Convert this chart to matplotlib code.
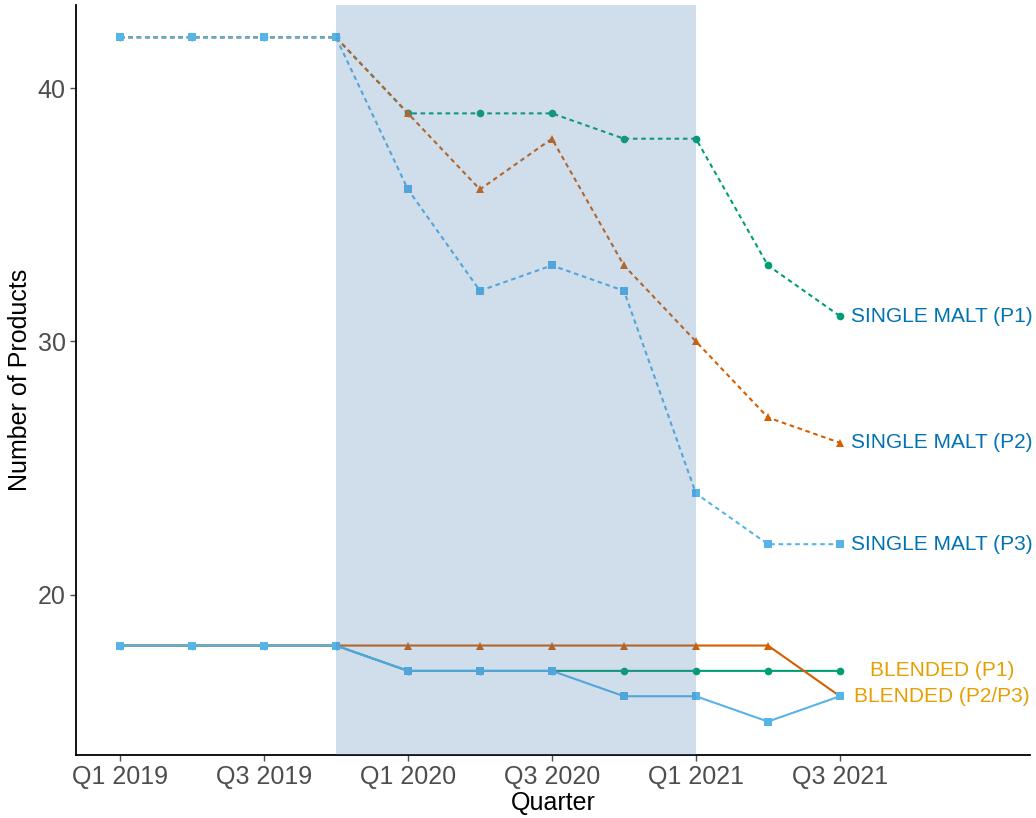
import matplotlib.pyplot as plt

quarters = ['Q1 2019', 'Q2 2019', 'Q3 2019', 'Q4 2019', 'Q1 2020', 'Q2 2020',
            'Q3 2020', 'Q4 2020', 'Q1 2021', 'Q2 2021', 'Q3 2021']
single_p1 = [42, 42, 42, 42, 39, 39, 39, 38, 38, 33, 31]
single_p2 = [42, 42, 42, 42, 39, 36, 38, 33, 30, 27, 26]
single_p3 = [42, 42, 42, 42, 36, 32, 33, 32, 24, 22, 22]
blended_p1 = [18, 18, 18, 18, 17, 17, 17, 17, 17, 17, 17]
blended_p2 = [18, 18, 18, 18, 18, 18, 18, 18, 18, 18, 16]
blended_p3 = [18, 18, 18, 18, 17, 17, 17, 16, 16, 15, 16]
shade_start, shade_end = 'Q4 2019', 'Q1 2021'

plt.rcParams['font.family'] = ['Liberation Sans', 'DejaVu Sans']

green = '#009E73'
orange = '#D55E00'
blue = '#56B4E9'
x = list(range(len(quarters)))

fig = plt.figure(figsize=(10.36, 8.18), dpi=100)
ax = fig.add_axes([0.0734, 0.077, 0.9208, 0.917])

dots = (0, (2.2, 1.8))
series = [
    (single_p1, green, 'o', dots),
    (single_p2, orange, '^', dots),
    (single_p3, blue, 's', dots),
    (blended_p1, green, 'o', '-'),
    (blended_p2, orange, '^', '-'),
    (blended_p3, blue, 's', '-'),
]
for vals, col, mk, ls in series:
    ax.plot(x, vals, color=col, linestyle=ls, linewidth=1.5,
            marker=mk, markersize=5.5, markeredgewidth=0)

# shaded period drawn over the lines, as in the original
ax.axvspan(quarters.index(shade_start), quarters.index(shade_end),
           color='#4A7DB0', alpha=0.26, linewidth=0, zorder=5)

lab_x = 11.42
ax.text(lab_x, single_p1[-1], 'SINGLE MALT (P1)', color='#0072B2', fontsize=15,
        ha='center', va='center')
ax.text(lab_x, single_p2[-1], 'SINGLE MALT (P2)', color='#0072B2', fontsize=15,
        ha='center', va='center')
ax.text(lab_x, single_p3[-1], 'SINGLE MALT (P3)', color='#0072B2', fontsize=15,
        ha='center', va='center')
ax.text(lab_x, blended_p1[-1], 'BLENDED (P1)', color='#E69F00', fontsize=15,
        ha='center', va='center')
ax.text(lab_x, blended_p3[-1], 'BLENDED (P2/P3)', color='#E69F00', fontsize=15,
        ha='center', va='center')

ax.set_xlim(-0.61, 12.64)
ax.set_ylim(13.68, 43.28)
ax.set_xticks(x[::2])
ax.set_xticklabels(quarters[::2])
ax.set_yticks([20, 30, 40])
ax.tick_params(axis='both', labelsize=18, colors='#4D4D4D', length=4,
               width=1, labelcolor='#4D4D4D')
ax.set_xlabel('Quarter', fontsize=18, labelpad=1)
ax.set_ylabel('Number of Products', fontsize=18, labelpad=4)
for side in ['top', 'right']:
    ax.spines[side].set_visible(False)
for side in ['left', 'bottom']:
    ax.spines[side].set_linewidth(1.3)

fig.savefig('out.png', dpi=100)
